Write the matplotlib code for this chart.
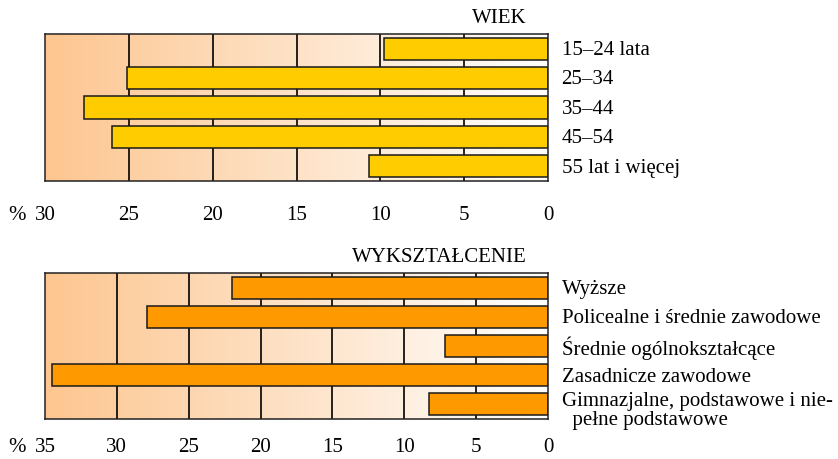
import matplotlib.pyplot as plt
import numpy as np
from matplotlib.colors import LinearSegmentedColormap
from matplotlib.transforms import blended_transform_factory

plt.rcParams['font.family'] = ['Liberation Serif', 'DejaVu Serif']

# data
wiek_labels = ['15–24 lata', '25–34', '35–44', '45–54', '55 lat i więcej']
wiek_values = [9.8, 25.1, 27.7, 26.0, 10.7]
wiek_ticks = [30, 25, 20, 15, 10, 5, 0]

wykszt_labels = ['Wyższe', 'Policealne i średnie zawodowe', 'Średnie ogólnokształcące',
                 'Zasadnicze zawodowe', 'Gimnazjalne, podstawowe i nie-\n  pełne podstawowe']
wykszt_values = [22.0, 27.9, 7.2, 34.5, 8.3]
wykszt_ticks = [35, 30, 25, 20, 15, 10, 5, 0]

W, H = 838, 460
FS = 15
fig = plt.figure(figsize=(W / 100, H / 100), dpi=100)

bg = LinearSegmentedColormap.from_list('bg', ['#FDC690', '#FFFFFF'])


def panel(rect, labels, values, ticks, title, color, pad):
    ax = fig.add_axes(rect)
    xmax = ticks[0]
    ax.set_xlim(xmax, 0)
    ax.set_ylim(len(values), 0)
    grad = np.linspace(0, 1, 256).reshape(1, -1)
    ax.imshow(grad, cmap=bg, extent=[xmax, 0, len(values), 0], aspect='auto', zorder=0)
    for t in ticks[1:-1]:
        ax.axvline(t, color='black', lw=1.2, zorder=1)
    y = np.arange(len(values)) + 0.5
    ax.barh(y, values, height=0.75, color=color, edgecolor='#1a1a1a', lw=1.1, zorder=2)
    ax.set_xticks(ticks)
    ax.set_xticklabels([str(t) for t in ticks], fontsize=FS)
    ax.tick_params(axis='x', length=0, pad=pad)
    ax.set_yticks([])
    for s in ax.spines.values():
        s.set_color('#222222')
        s.set_linewidth(1.1)
    tr = blended_transform_factory(ax.transAxes, ax.transData)
    for yi, lab in zip(y, labels):
        if '\n' in lab:
            ax.text(1.027, yi + 0.2, lab, transform=tr, ha='left', va='center',
                    fontsize=FS, linespacing=1.0)
        else:
            ax.text(1.027, yi + 0.03, lab, transform=tr, ha='left', va='center', fontsize=FS)
    ax.text(0.958, 1.05, title, transform=ax.transAxes, ha='right', va='bottom', fontsize=FS)
    # "%" sits in line with the tick labels
    ax.annotate('%', xy=(-0.055, 0), xycoords='axes fraction', xytext=(0, -pad),
                textcoords='offset points', ha='center', va='top', fontsize=FS)
    return ax


panel([45 / W, 1 - 182 / H, 503 / W, 147 / H], wiek_labels, wiek_values,
      wiek_ticks, 'WIEK', '#FFCC00', 17)
panel([45 / W, 1 - 420 / H, 503 / W, 146 / H], wykszt_labels, wykszt_values,
      wykszt_ticks, 'WYKSZTAŁCENIE', '#FF9900', 13)

fig.savefig('out.png', dpi=100)
